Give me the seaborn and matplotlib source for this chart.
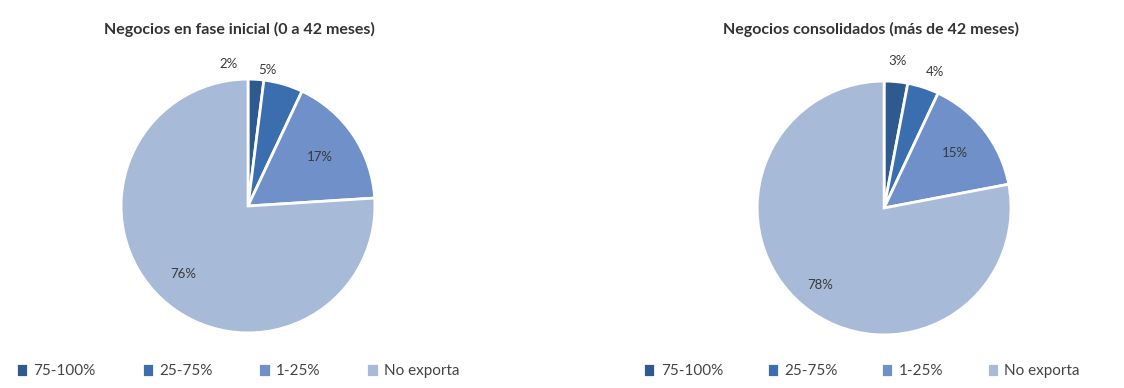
import numpy as np
import matplotlib
matplotlib.use("Agg")
import matplotlib.pyplot as plt
import seaborn as sns

categories = ["75-100%", "25-75%", "1-25%", "No exporta"]
inicial = [2, 5, 17, 76]
consolidados = [3, 4, 15, 78]
titles = ["Negocios en fase inicial (0 a 42 meses)",
          "Negocios consolidados (más de 42 meses)"]

colors = ["#2e5a8f", "#3b6eae", "#6f90c8", "#a7bad8"]

sns.set_theme(style="white")
plt.rcParams['font.family'] = ['Lato', 'DejaVu Sans']

fig = plt.figure(figsize=(11.24, 3.88), dpi=100)

# axes boxes in figure fraction (left, bottom, width, height)
boxes = [[0.0738, 0.0438, 0.2937, 0.8505],
         [0.6397, 0.0387, 0.2937, 0.8505]]
# label radius and x nudge per slice
label_r = [[1.12, 1.12, 0.68, 0.74], [1.16, 1.13, 0.71, 0.79]]
label_dx = [[-0.22, -0.16, 0.0, 0.0], [0.0, 0.05, 0.0, 0.0]]
legend_x = [0.002, 0.560]
title_x = [0.213, 0.775]
col_space = [3.0, 2.85]

for i, vals in enumerate([inicial, consolidados]):
    ax = fig.add_axes(boxes[i])
    wedges, _ = ax.pie(vals, colors=colors, startangle=90, counterclock=False,
                       wedgeprops=dict(edgecolor="white", linewidth=2))
    ax.set_xlim(-1.3, 1.3)
    ax.set_ylim(-1.3, 1.3)
    ax.set_aspect("equal")
    ax.axis("off")
    for j, w in enumerate(wedges):
        ang = np.deg2rad((w.theta1 + w.theta2) / 2)
        r = label_r[i][j]
        ax.text(r * np.cos(ang) + label_dx[i][j], r * np.sin(ang), f"{vals[j]}%",
                ha="center", va="center", fontsize=9.5, color="#3a3a3a")
    fig.text(title_x[i], 0.923, titles[i], ha="center", va="center",
             fontsize=11.5, fontweight="bold", color="#333333")
    ax.legend(wedges, categories, loc="center left",
              bbox_to_anchor=(legend_x[i], 0.044), bbox_transform=fig.transFigure,
              ncol=4, frameon=False, fontsize=11, handlelength=0.8, handleheight=1.0,
              handletextpad=0.35, columnspacing=col_space[i], labelcolor="#444444")

fig.savefig("out.png", dpi=100)
